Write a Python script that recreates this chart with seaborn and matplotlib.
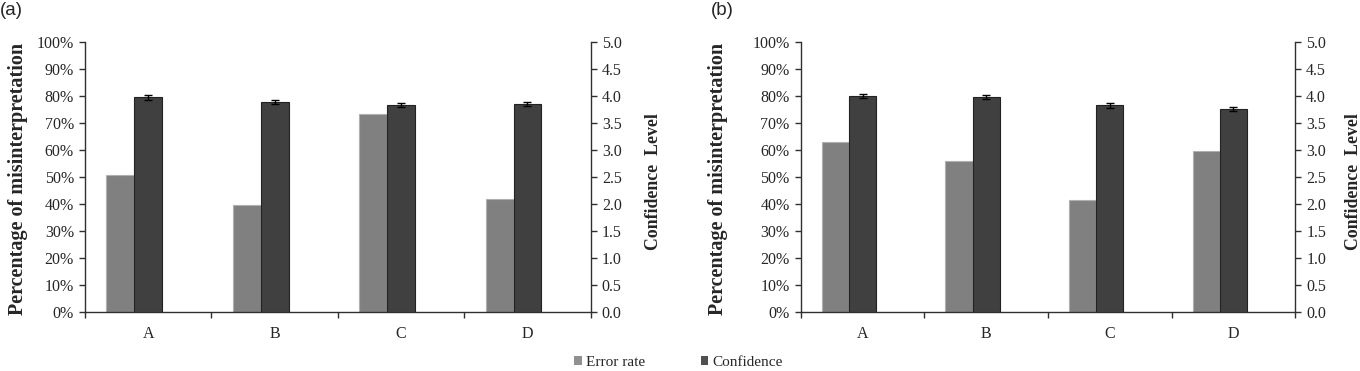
import matplotlib
matplotlib.use("Agg")
import matplotlib.pyplot as plt
import seaborn as sns
import pandas as pd
from matplotlib.patches import Patch
from matplotlib.ticker import PercentFormatter, MultipleLocator, FormatStrFormatter, FixedLocator

# ---- data ----
categories = ["A", "B", "C", "D"]
error_rate_a = [0.506, 0.394, 0.733, 0.417]
confidence_a = [3.97, 3.88, 3.83, 3.85]
conf_err_a = [0.045, 0.04, 0.04, 0.04]
error_rate_b = [0.628, 0.558, 0.412, 0.596]
confidence_b = [3.99, 3.97, 3.82, 3.76]
conf_err_b = [0.04, 0.04, 0.05, 0.035]
panel_labels = ["(a)", "(b)"]
series_names = ["Error rate", "Confidence"]

col_err = "#808080"
col_conf = "#404040"
hue_order = ["Error rate", "Confidence", "_blank"]
palette = {"Error rate": col_err, "Confidence": col_conf, "_blank": "white"}

sns.set_theme(style="white")
plt.rcParams["font.family"] = ["Liberation Serif", "DejaVu Serif"]

fig = plt.figure(figsize=(13.6, 3.71), dpi=100)
positions = [[0.0625, 0.1598, 0.3718, 0.7278], [0.5888, 0.1598, 0.3635, 0.7278]]
label_x = [0.0, 0.523]
ylabel_x = [-0.113, -0.147]
ylabel2_x = [1.108, 1.10]

panels = [(error_rate_a, confidence_a, conf_err_a), (error_rate_b, confidence_b, conf_err_b)]
spine_col = "#303030"

for k, (err, conf, cerr) in enumerate(panels):
    ax = fig.add_axes(positions[k])
    df_e = pd.DataFrame({"cat": categories, "val": err, "series": "Error rate"})
    df_c = pd.DataFrame({"cat": categories, "val": conf, "series": "Confidence"})
    sns.barplot(data=df_e, x="cat", y="val", hue="series", hue_order=hue_order,
                palette=palette, width=0.66, dodge=True, ax=ax, legend=False, errorbar=None,
                edgecolor="#b0b0b0", linewidth=0.8, saturation=1)
    ax2 = ax.twinx()
    sns.barplot(data=df_c, x="cat", y="val", hue="series", hue_order=hue_order,
                palette=palette, width=0.66, dodge=True, ax=ax2, legend=False, errorbar=None,
                edgecolor="#222222", linewidth=0.8, saturation=1)
    patches = sorted([p for p in ax2.patches if p.get_height() > 0], key=lambda p: p.get_x())
    for p, e in zip(patches, cerr):
        ax2.errorbar(p.get_x() + p.get_width() / 2, p.get_height(), yerr=e, fmt="none",
                     ecolor="black", elinewidth=1.0, capsize=3.2, capthick=1.0)

    ax.set_ylim(0, 1.0)
    ax2.set_ylim(0, 5.0)
    ax.set_xlim(-0.5, 3.5)
    ax.yaxis.set_major_locator(MultipleLocator(0.1))
    ax.yaxis.set_major_formatter(PercentFormatter(1.0, decimals=0))
    ax2.yaxis.set_major_locator(MultipleLocator(0.5))
    ax2.yaxis.set_major_formatter(FormatStrFormatter("%.1f"))

    ax.set_xticks(range(len(categories)))
    ax.set_xticklabels(categories)
    ax.xaxis.set_minor_locator(FixedLocator([-0.5, 0.5, 1.5, 2.5, 3.5]))
    ax.tick_params(axis="x", which="major", length=0, pad=10, labelsize=11.5)
    ax.tick_params(axis="x", which="minor", length=4, width=1, color=spine_col, bottom=True)
    ax.tick_params(axis="y", which="major", left=True, length=4, width=1, color=spine_col,
                   labelsize=11.5, pad=4)
    ax2.tick_params(axis="y", which="major", right=True, length=4, width=1, color=spine_col,
                    labelsize=11.5, pad=4)
    ax.set_xlabel("")
    ax2.set_xlabel("")
    ax.set_ylabel("Percentage of misinterpretation", fontsize=14.5, fontweight="bold")
    ax.yaxis.set_label_coords(ylabel_x[k], 0.49)
    ax2.set_ylabel("Confidence  Level", fontsize=12.8, fontweight="bold",
                   rotation=90, va="top")
    ax2.yaxis.set_label_coords(ylabel2_x[k], 0.483)

    for a in (ax, ax2):
        a.spines["top"].set_visible(False)
        for s in ("left", "right", "bottom"):
            a.spines[s].set_color(spine_col)
            a.spines[s].set_linewidth(1.0)
    ax.spines["right"].set_visible(False)
    ax2.spines["left"].set_visible(False)
    ax2.spines["bottom"].set_visible(False)

    fig.text(label_x[k], 0.995, panel_labels[k], ha="left", va="top", fontsize=13.5,
             family=["Liberation Sans", "DejaVu Sans"])

handles = [Patch(facecolor="#909090", edgecolor="none"), Patch(facecolor="#505050", edgecolor="none")]
fig.legend(handles, series_names, loc="center", bbox_to_anchor=(0.499, 0.024), ncol=2,
           frameon=False, fontsize=11, handlelength=0.5, handleheight=0.5, handletextpad=0.3,
           columnspacing=3.6, borderpad=0, borderaxespad=0)

fig.savefig("out.png", dpi=100)
